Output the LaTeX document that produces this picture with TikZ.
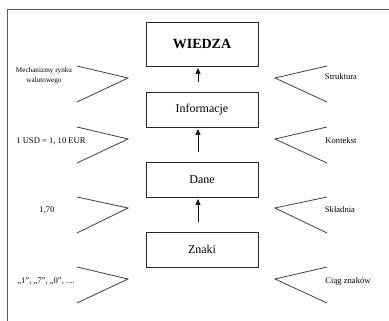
\documentclass[tikz,border=0pt]{standalone}
\usepackage{fontspec}
\setmainfont{Liberation Serif}
\usetikzlibrary{arrows.meta}
\begin{document}
\begin{tikzpicture}[x=1pt,y=-1pt,
  levelbox/.style={draw=black!85,line width=0.95pt,minimum width=112pt,inner sep=0pt},
  uparrow/.style={-{Triangle[length=6pt,width=5pt]},line width=0.9pt,black!90},
  chevron/.style={line width=0.8pt,black!75},
  sidelabel/.style={font=\fontsize{8.6}{10}\selectfont,inner sep=0pt,align=center}]
\useasboundingbox (0,0) rectangle (389,321);
\draw[line width=1.4pt,black!65] (7.5,321) -- (7.5,9.5) -- (389,9.5);
\node[levelbox,minimum height=44pt,font=\fontsize{14}{16}\selectfont\bfseries] (wiedza) at (202,44) {WIEDZA};
\node[levelbox,minimum height=35pt,font=\fontsize{12}{14}\selectfont] (inf) at (202,109.5) {Informacje};
\node[levelbox,minimum height=35pt,font=\fontsize{12}{14}\selectfont] (dane) at (202,179.5) {Dane};
\node[levelbox,minimum height=35pt,font=\fontsize{12}{14}\selectfont] (znaki) at (202,249.5) {Znaki};
\draw[uparrow] ([xshift=-4pt,yshift=10pt]inf.north) -- ([xshift=-4pt,yshift=-1.5pt]wiedza.south);
\draw[uparrow] ([xshift=-4pt,yshift=10pt]dane.north) -- ([xshift=-4pt,yshift=-1.5pt]inf.south);
\draw[uparrow] ([xshift=-4pt,yshift=10pt]znaki.north) -- ([xshift=-4pt,yshift=-1.5pt]dane.south);
\foreach \u/\v in {66/12,127/12,197/11,267/12}{
  \draw[chevron] (77,\u) -- (128,\u+\v) -- (77,\u+36);
  \draw[chevron] (327,\u) -- (275,\u+\v) -- (327,\u+36);
}
\node[sidelabel,font=\fontsize{7.2}{10}\selectfont] (l1) at (44,76) {Mechanizmy rynku\\walutowego};
\node[sidelabel] (l2) at (51,141) {1 USD = 1, 10 EUR};
\node[sidelabel] (l3) at (47,210) {1,70};
\node[sidelabel] (l4) at (46,281) {„1”, „7”, „0”, ....};
\node[sidelabel] (r1) at (341,77) {Struktura};
\node[sidelabel] (r2) at (341,141) {Kontekst};
\node[sidelabel] (r3) at (340,210) {Składnia};
\node[sidelabel] (r4) at (348,281) {Ciąg znaków};
\end{tikzpicture}
\end{document}
